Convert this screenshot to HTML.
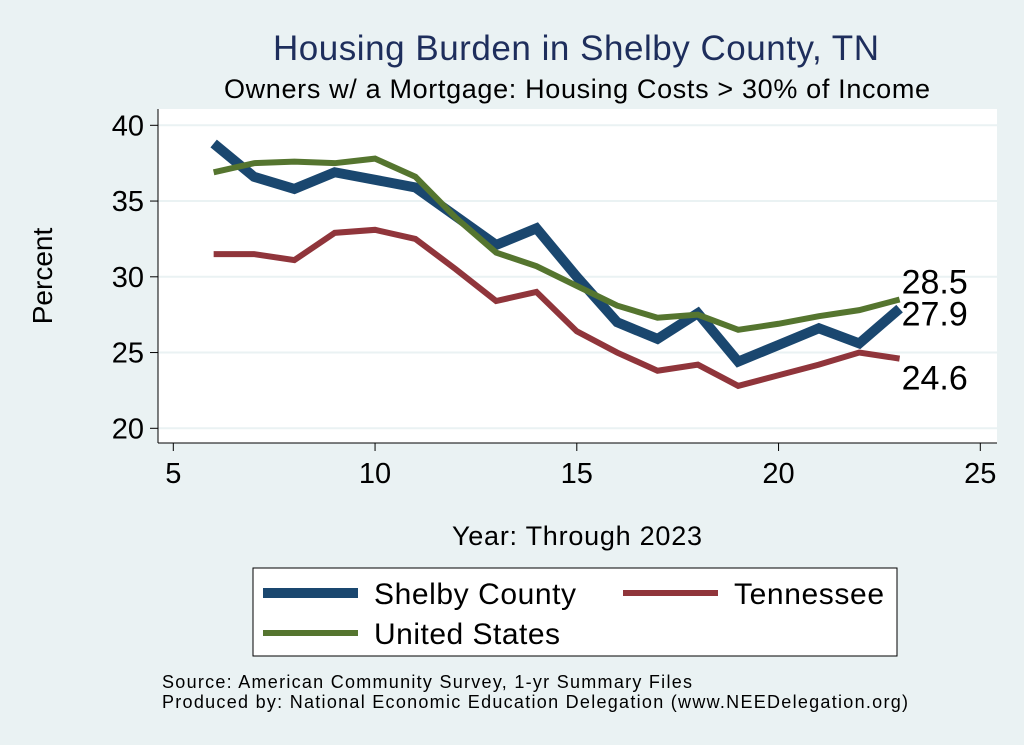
<!DOCTYPE html>
<html><head><meta charset="utf-8"><style>
body{margin:0;background:#eaf2f3;}
svg{display:block;font-family:"Liberation Sans",sans-serif;}
</style></head><body>
<svg id="chart" width="1024" height="745">
<rect x="0" y="0" width="1024" height="745" fill="#eaf2f3"/>
<text x="576" y="60" text-anchor="middle" font-size="35" fill="#1e2e5c" textLength="606">Housing Burden in Shelby County, TN</text>
<text x="577" y="98" text-anchor="middle" font-size="27" fill="#000" textLength="706">Owners w/ a Mortgage: Housing Costs &gt; 30% of Income</text>
<rect x="158" y="109" width="839" height="334" fill="#fff"/>
<g id="grid"></g>
<g id="axes"></g>
<g id="series"></g>
<text x="52" y="276" text-anchor="middle" font-size="28" transform="rotate(-90 52 276)">Percent</text>
<text x="577" y="545" text-anchor="middle" font-size="27" textLength="250">Year: Through 2023</text>
<g>
<rect x="253" y="568" width="644" height="88" fill="#fff" stroke="#000" stroke-width="1"/>
<g><line x1="263" y1="593" x2="358" y2="593" stroke="#1a476f" stroke-width="10"/><text x="374" y="604" font-size="30" textLength="202">Shelby County</text></g>
<g><line x1="623" y1="593" x2="718" y2="593" stroke="#90353b" stroke-width="6"/><text x="734" y="604" font-size="30" textLength="150">Tennessee</text></g>
<g><line x1="263" y1="633" x2="358" y2="633" stroke="#55752f" stroke-width="6"/><text x="374" y="644" font-size="30" textLength="186">United States</text></g>
</g>
<text x="162" y="688" font-size="18" textLength="530">Source: American Community Survey, 1-yr Summary Files</text>
<text x="162" y="708" font-size="18" textLength="746">Produced by: National Economic Education Delegation (www.NEEDelegation.org)</text>
</svg>
<script>
const years=[6,7,8,9,10,11,12,13,14,15,16,17,18,19,20,21,22,23];
const shelby=[38.8,36.6,35.8,36.9,36.4,35.9,34.0,32.1,33.2,30.0,27.0,25.9,27.6,24.4,25.5,26.6,25.6,27.9];
const tennessee=[31.5,31.5,31.1,32.9,33.1,32.5,30.5,28.4,29.0,26.4,25.0,23.8,24.2,22.8,23.5,24.2,25.0,24.6];
const unitedStates=[36.9,37.5,37.6,37.5,37.8,36.6,33.9,31.6,30.7,29.4,28.1,27.3,27.5,26.5,26.9,27.4,27.8,28.5];
const xTicks=[5,10,15,20,25];
const yTicks=[20,25,30,35,40];
const NS="http://www.w3.org/2000/svg";
const X=v=>173.3+(v-5)*40.35;
const Y=v=>428.3-(v-20)*15.15;
function mk(t,a,p){const e=document.createElementNS(NS,t);for(const k in a)e.setAttribute(k,a[k]);p.appendChild(e);return e;}
const grid=document.getElementById('grid'),axes=document.getElementById('axes'),ser=document.getElementById('series');
yTicks.forEach(v=>{
 const g=mk('line',{x1:158,x2:997,y1:Y(v),y2:Y(v),stroke:'#eaf2f3','stroke-width':2},grid);
 
 
 mk('line',{x1:150,x2:158,y1:Y(v),y2:Y(v),stroke:'#000','stroke-width':1},axes);
 const t=mk('text',{x:144,y:Y(v)+10,'text-anchor':'end','font-size':29},axes);t.textContent=v;
 
 
});
xTicks.forEach(v=>{
 mk('line',{x1:X(v),x2:X(v),y1:443,y2:451,stroke:'#000','stroke-width':1},axes);
 const t=mk('text',{x:X(v),y:483,'text-anchor':'middle','font-size':29},axes);t.textContent=v;
 
 
});
mk('line',{x1:158,x2:158,y1:109,y2:443,stroke:'#000','stroke-width':1},axes);
mk('line',{x1:158,x2:997,y1:443,y2:443,stroke:'#000','stroke-width':1},axes);
function line(vals,color,w,name){
 const p=mk('polyline',{points:years.map((y,i)=>X(y)+','+Y(vals[i])).join(' '),fill:'none',stroke:color,'stroke-width':w,'stroke-linejoin':'miter'},ser);
 
 
}
line(tennessee,'#90353b',6,'tennessee-line');
line(shelby,'#1a476f',10,'shelby-line');
line(unitedStates,'#55752f',6,'us-line');
const last=years.length-1;
[[unitedStates,'us',-6],[shelby,'shelby',17],[tennessee,'tn',31]].forEach(([s,n,dy])=>{
 const t=mk('text',{x:X(years[last])+2,y:Y(s[last])+dy,'font-size':34},ser);t.textContent=s[last].toFixed(1);
 
 
});
</script>
</body></html>
